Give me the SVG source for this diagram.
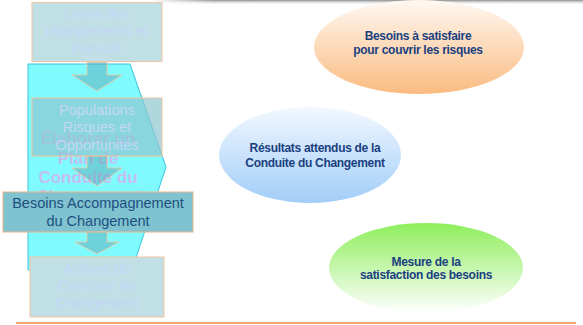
<svg xmlns="http://www.w3.org/2000/svg" width="583" height="325" viewBox="0 0 583 325">
<defs>
<linearGradient id="gOr" x1="0" y1="0" x2="0" y2="1">
<stop offset="0" stop-color="#fff8f2"/><stop offset="1" stop-color="#fabb80"/>
</linearGradient>
<linearGradient id="gBl" x1="0" y1="0" x2="0" y2="1">
<stop offset="0" stop-color="#f2f8ff"/><stop offset="1" stop-color="#a2cdf8"/>
</linearGradient>
<linearGradient id="gGr" x1="0" y1="0" x2="0" y2="1">
<stop offset="0" stop-color="#8eee5c"/><stop offset="1" stop-color="#ffffff"/>
</linearGradient>
<linearGradient id="gSh" x1="0" y1="0" x2="0" y2="1">
<stop offset="0" stop-color="#8a8a8a"/><stop offset="1" stop-color="#ffffff" stop-opacity="0"/>
</linearGradient>
<linearGradient id="gShH" x1="0" y1="0" x2="1" y2="0">
<stop offset="0" stop-color="#fff" stop-opacity="1"/><stop offset="0.15" stop-color="#fff" stop-opacity="0"/>
<stop offset="0.9" stop-color="#fff" stop-opacity="0"/><stop offset="1" stop-color="#fff" stop-opacity="0"/>
</linearGradient>
</defs>
<style>
.box{fill:#c0e0e6;stroke:#f2c4a0;stroke-width:1}
.boxT{fill:#8ec6d0;fill-opacity:0.7;stroke:#f2c4a0;stroke-width:1}
.faint{font-family:"Liberation Sans",Arial,sans-serif;font-size:14.5px;fill:#c4d6f6;text-anchor:middle}
.plan{font-family:"Liberation Sans",Arial,sans-serif;font-size:17px;font-weight:bold;fill:#c4bef2;text-anchor:middle}
.arrow{fill:#5c9fb2;fill-opacity:0.45;stroke:#f0c8a0;stroke-width:0.8}
.ell{font-family:"Liberation Sans",Arial,sans-serif;font-size:12px;font-weight:bold;fill:#1a4080;text-anchor:middle;letter-spacing:-0.3px}
.dark{font-family:"Liberation Sans",Arial,sans-serif;font-size:14.5px;fill:#1f4f80;text-anchor:middle}
</style>
<rect x="150" y="0" width="433" height="5" fill="url(#gSh)"/>
<rect x="150" y="0" width="433" height="5" fill="url(#gShH)"/>
<g id="plan">
<polygon points="28,64 130,64 166,167 132,270 28,270" fill="#80fbfd" stroke="#3cc4e0" stroke-width="1"/>
<text class="plan" x="88" y="144">Élaborer un</text>
<text class="plan" x="88" y="164">Plan de</text>
<text class="plan" x="88" y="183">Conduite du</text>
<text class="plan" x="88" y="202">Changement</text>
</g>
<g id="listes">
<rect class="box" x="32" y="2.5" width="130" height="59"/>
<text class="faint" x="97" y="19">Listes des</text>
<text class="faint" x="97" y="36">changements et</text>
<text class="faint" x="97" y="53">impacts</text>
</g>
<g id="populations">
<rect class="boxT" x="32" y="98" width="130" height="58"/>
<text class="faint" x="97" y="115">Populations</text>
<text class="faint" x="97" y="132">Risques et</text>
<text class="faint" x="97" y="150">Opportunités</text>
</g>
<g id="connectors">
<polygon class="arrow" points="87,62 107,62 107,75 122,75 97,91 72,75 87,75"/>
<polygon class="arrow" points="87,156 107,156 107,168 122,168 97,186 72,168 87,168"/>
</g>
<g id="besoins">
<rect x="3" y="192" width="190" height="40" fill="#7ec3cf" stroke="#f0b488" stroke-width="1"/>
<text class="dark" x="98" y="208">Besoins Accompagnement</text>
<text class="dark" x="98" y="226">du Changement</text>
</g>
<g id="actions">
<rect class="box" x="30" y="257" width="134" height="60"/>
<text class="faint" x="97" y="274">Actions de</text>
<text class="faint" x="97" y="291">Conduite du</text>
<text class="faint" x="97" y="308">Changement</text>
</g>
<g id="connectors2">
<polygon class="arrow" points="87,232 107,232 107,242 119,242 97,254 75,242 87,242"/>
</g>
<g id="ell-besoins">
<ellipse cx="419" cy="47" rx="105" ry="47" fill="url(#gOr)"/>
<text class="ell" x="418" y="40">Besoins à satisfaire</text>
<text class="ell" x="418" y="54">pour couvrir les risques</text>
</g>
<g id="ell-resultats">
<ellipse cx="310" cy="155" rx="91" ry="48" fill="url(#gBl)"/>
<text class="ell" x="315" y="152">Résultats attendus de la</text>
<text class="ell" x="315" y="167">Conduite du Changement</text>
</g>
<g id="ell-mesure">
<ellipse cx="426" cy="268" rx="97" ry="45" fill="url(#gGr)"/>
<text class="ell" x="426" y="266">Mesure de la</text>
<text class="ell" x="426" y="279">satisfaction des besoins</text>
</g>
<line x1="16" y1="323" x2="576" y2="323" stroke="#f7a868" stroke-width="2"/>
</svg>
